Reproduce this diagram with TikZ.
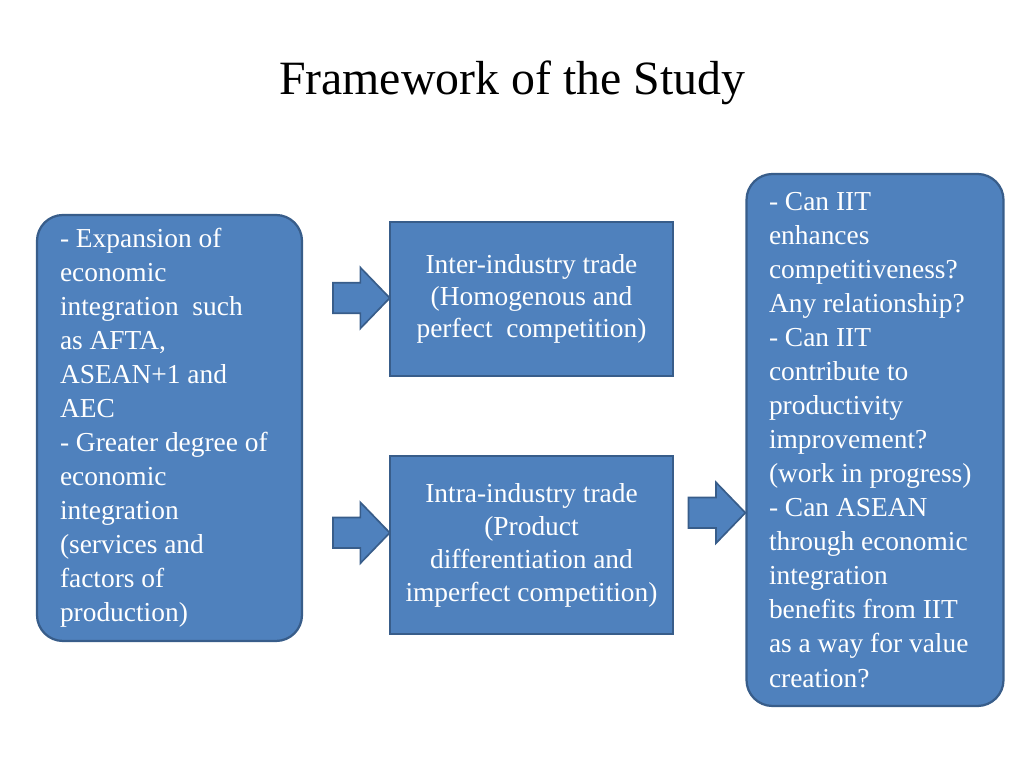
\documentclass[tikz,border=0pt]{standalone}
\usepackage{fontspec}
\setmainfont{Liberation Serif}
\usepackage{tikz}
\usetikzlibrary{shapes.arrows}
\definecolor{boxfill}{HTML}{4F81BD}
\definecolor{boxline}{HTML}{385D8A}
\tikzset{
    sidebox/.style={draw=boxline, fill=boxfill, line width=1.6pt,
        rounded corners=0.65cm, text=white, align=flush left, inner sep=0pt,
        font=\fontsize{19.5}{24.2}\selectfont},
    midbox/.style={draw=boxline, fill=boxfill, line width=1.6pt,
        text=white, align=center, inner sep=0pt,
        minimum width=7.075cm},
    blockarrow/.style={single arrow, draw=boxline, fill=boxfill,
        line width=1.2pt, inner sep=0.36cm, single arrow head extend=0.38cm,
        single arrow tip angle=92, minimum height=1.42cm}
}
\begin{document}
\begin{tikzpicture}
        \useasboundingbox (0,0) rectangle (25.6,19.2);
        % title
        \node [font=\fontsize{34}{40}\selectfont] (title) at (12.8,17.12) {Framework of the Study};

        % left box
        \node [sidebox, minimum width=6.625cm, minimum height=10.65cm,
            text width=5.475cm] (drivers) at (4.2375,8.5)
            {- Expansion of\\ economic\\ integration\ \ such\\ as AFTA,\\ ASEAN+1 and\\ AEC\\
            - Greater degree of\\ economic\\ integration\\ (services and\\ factors of\\ production)};

        % inter-industry
        \node [midbox, minimum height=3.85cm, font=\fontsize{19.5}{22.7}\selectfont] (inter) at (13.2875,11.725)
            {Inter-industry trade\\ (Homogenous and\\ perfect\ \ competition)};

        % intra-industry
        \node [midbox, minimum height=4.45cm, font=\fontsize{19.5}{23.5}\selectfont] (intra) at (13.2875,5.575)
            {Intra-industry trade\\ (Product\\ differentiation and\\ imperfect competition)};

        % questions
        \node [sidebox, minimum width=6.425cm, minimum height=13.3cm,
            text width=5.3cm] (questions) at (21.875,8.2)
            {- Can IIT\\ enhances\\ competitiveness?\\ Any relationship?\\ - Can IIT\\ contribute to\\
            productivity\\ improvement?\\ (work in progress)\\ - Can ASEAN\\ through economic\\
            integration\\ benefits from IIT\\ as a way for value\\ creation?};

        % arrows
        \node [blockarrow] (tointer) at (8.85,11.75) {};
        \node [blockarrow] (tointra) at (8.85,5.88) {};
        \node [blockarrow] (toquestions) at (17.74,6.38) {};
\end{tikzpicture}
\end{document}
